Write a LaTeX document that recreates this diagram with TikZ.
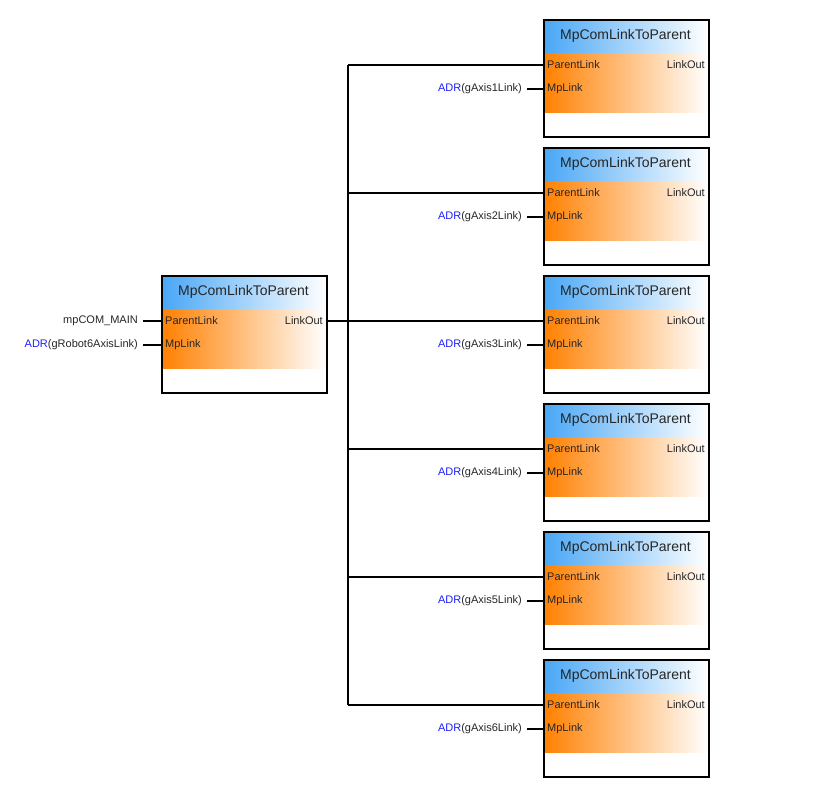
\documentclass[tikz,border=0pt]{standalone}
\usepackage{fontspec}
\setmainfont{Liberation Sans}
\definecolor{hdrblue}{RGB}{72,166,246}
\definecolor{fborange}{RGB}{255,128,0}
\definecolor{adrblue}{RGB}{30,30,255}
\tikzset{
  fbframe/.style={draw=black, line width=1.8pt, minimum width=165pt, minimum height=117pt, anchor=north west, inner sep=0pt},
  fbtitle/.style={font=\fontsize{14}{16}\selectfont, text=black!85, inner sep=0pt},
  portlbl/.style={font=\fontsize{11}{13}\selectfont, text=black!85, inner sep=0pt},
  inlbl/.style={font=\fontsize{11}{13}\selectfont, text=black!85, inner sep=0pt, anchor=east},
  wire/.style={draw=black, line width=1.3pt}
}
\newcommand\mpblock[3]{%
  \shade[left color=hdrblue, right color=white] (#2,#3) rectangle ++(165,34);
  \shade[left color=fborange, middle color=fborange!55!white, right color=white] (#2,#3+34) rectangle ++(165,59);
  \node[fbframe] (#1) at (#2,#3) {};
  \node[fbtitle] (#1-t) at (#2+82.5,#3+17) {MpComLinkToParent};
  \node[portlbl, anchor=west] (#1-pl) at (#2+4,#3+46) {ParentLink};
  \node[portlbl, anchor=west] (#1-ml) at (#2+4,#3+70) {MpLink};
  \node[portlbl, anchor=east] (#1-lo) at (#2+162,#3+46) {LinkOut};
  \coordinate (#1-in1) at (#2,#3+46);
  \coordinate (#1-in2) at (#2,#3+70);
  \coordinate (#1-out) at (#2+165,#3+46);
}
\begin{document}
\begin{tikzpicture}[x=1pt,y=-1pt]
\useasboundingbox (0,0) rectangle (823,798);
\mpblock{m}{161}{275}
\mpblock{b1}{543}{19}
\mpblock{b2}{543}{147}
\mpblock{b3}{543}{275}
\mpblock{b4}{543}{403}
\mpblock{b5}{543}{531}
\mpblock{b6}{543}{659}
% main inputs
\node[inlbl] (m-a) at (138,321) {mpCOM\_MAIN};
\node[inlbl] (m-b) at (138,345) {\textcolor{adrblue}{ADR}(gRobot6AxisLink)};
\draw[wire] ([xshift=5pt]m-a.east) -- (m-in1);
\draw[wire] ([xshift=5pt]m-b.east) -- (m-in2);
% axis inputs
\foreach \i in {1,...,6}{
  \node[inlbl] (b\i-a) at (522,89+128*\i-128) {\textcolor{adrblue}{ADR}(gAxis\i Link)};
  \draw[wire] ([xshift=5pt]b\i-a.east) -- (b\i-in2);
}
% bus
\coordinate (busx) at (348,0);
\draw[wire] (m-out) -- (b3-in1);
\draw[wire] (busx |- b1-in1) -- (busx |- b6-in1);
\foreach \i in {1,2,4,5,6}{
  \draw[wire] (busx |- b\i-in1) -- (b\i-in1);
}
\end{tikzpicture}
\end{document}
